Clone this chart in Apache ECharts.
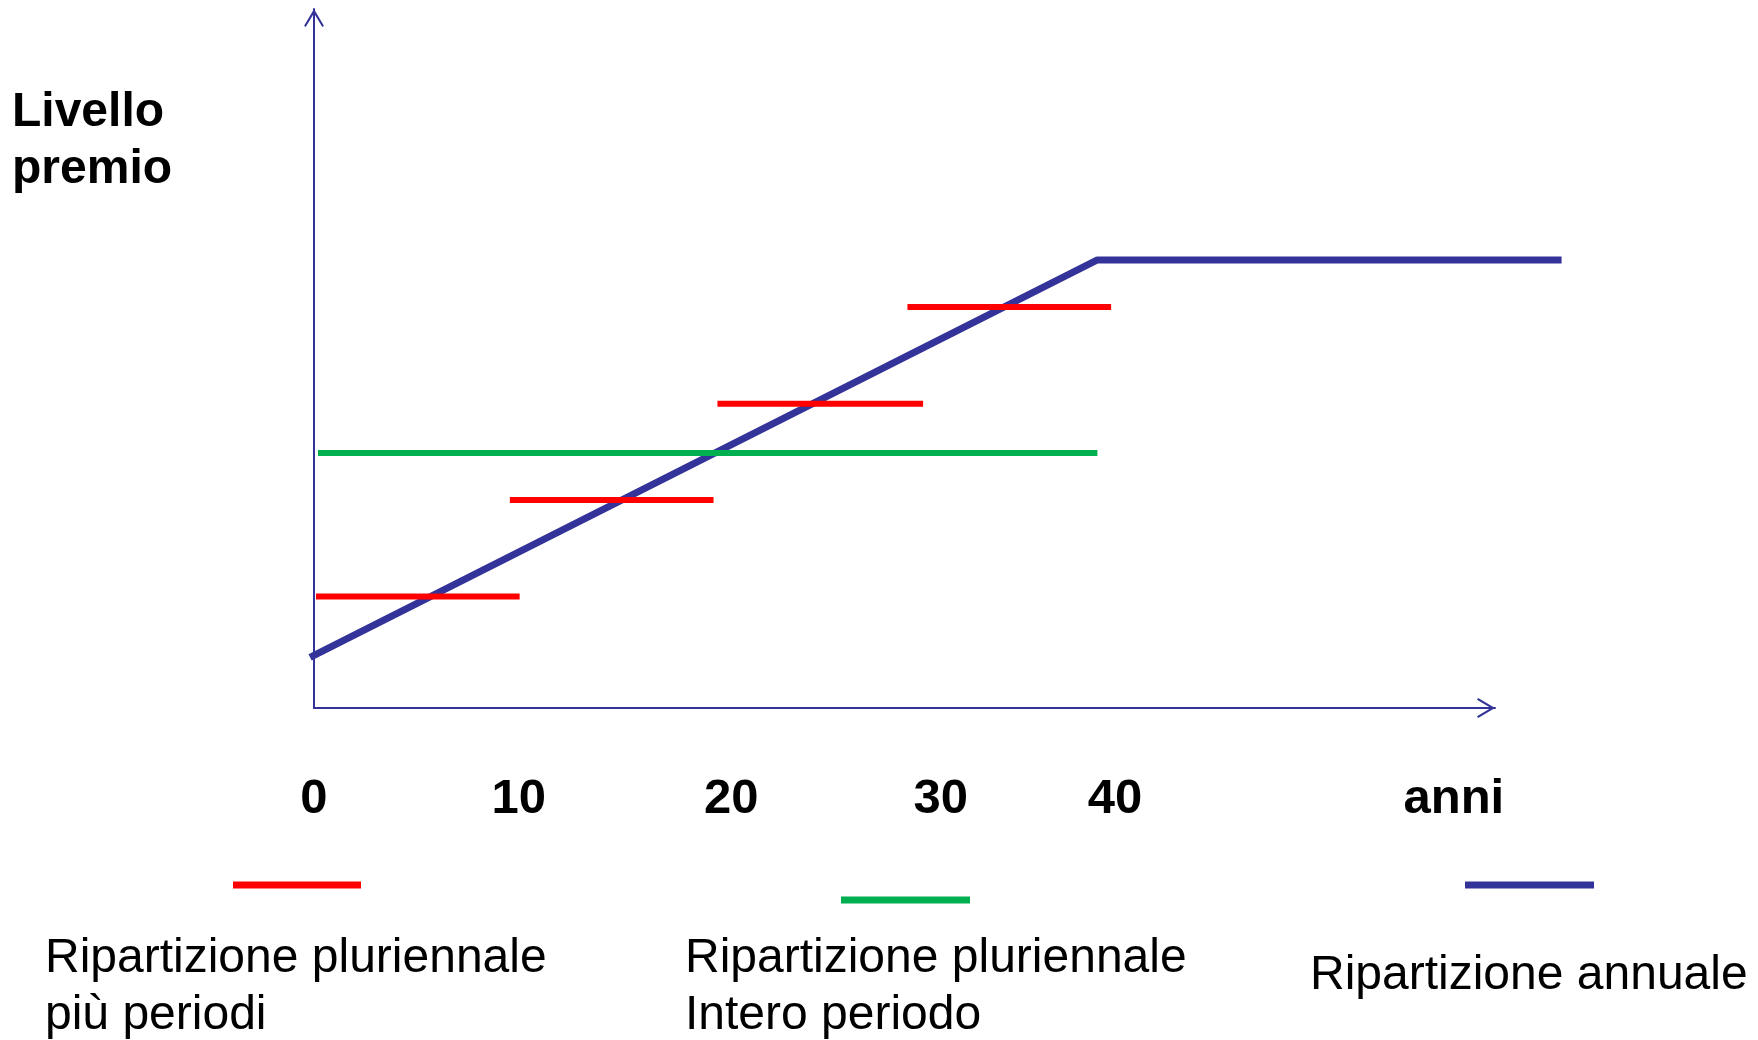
<!DOCTYPE html>
<html><head><meta charset="utf-8">
<script src="https://cdn.jsdelivr.net/npm/echarts@6/dist/echarts.min.js"></script>
<style>html,body{margin:0;padding:0;background:#fff}#c{width:1758px;height:1040px}</style>
</head><body><div id="c"></div>
<script>
// ---- data ----
const seriesNames = ['Ripartizione pluriennale\npiù periodi', 'Ripartizione pluriennale\nIntero periodo', 'Ripartizione annuale'];
const yAxisTitle = 'Livello\npremio';
const tickLabels = ['0', '10', '20', '30', '40', 'anni'];
const tickYears = [0, 10.45, 21.3, 32.0, 40.9, 58.2];
// red: multi-period premiums (one segment per period)
const redStartYears = [0.1, 10.0, 20.6, 30.3];
const redEndYears = [10.5, 20.4, 31.1, 40.7];
const redLevels = [24.9, 46.4, 67.9, 89.5];
// green: whole period premium
const greenYears = [0.2, 40.0];
const greenLevels = [56.9, 56.9];
// blue: annual premium
const blueYears = [-0.2, 40, 63.7];
const blueLevels = [11.3, 100, 100];

// ---- styles ----
const BLUE = '#333399', RED = '#FF0000', GREEN = '#00B050';
const FONT = '"Liberation Sans", Arial, sans-serif';
const chevron = 'path://M10 0 L20 17 L18.4 18.2 L10 4.2 L1.6 18.2 L0 17 Z';

// axis grid (index 1) ends at arrow tips; data grid (index 0) is wider with same scale
const AX_LEFT = 314, AX_RIGHT = 263, AX_MAX = 60.3;
const PX_PER_YEAR = (1758 - AX_LEFT - AX_RIGHT) / AX_MAX;
const D_MIN = -1, D_MAX = 64;
const D_LEFT = AX_LEFT + D_MIN * PX_PER_YEAR;
const D_RIGHT = 1758 - D_LEFT - (D_MAX - D_MIN) * PX_PER_YEAR;

const series = [];
series.push({
  type: 'line', name: seriesNames[2], data: blueYears.map((x, i) => [x, blueLevels[i]]),
  symbol: 'none', z: 2, lineStyle: { color: BLUE, width: 7 }
});
series.push({
  type: 'line', name: seriesNames[1], data: greenYears.map((x, i) => [x, greenLevels[i]]),
  symbol: 'none', z: 3, lineStyle: { color: GREEN, width: 6 }
});
redLevels.forEach((lv, i) => {
  series.push({
    type: 'line', name: seriesNames[0], data: [[redStartYears[i], lv], [redEndYears[i], lv]],
    symbol: 'none', z: 4, lineStyle: { color: RED, width: 6 }
  });
});

const axisLineCommon = {
  show: true,
  lineStyle: { color: BLUE, width: 2 },
  symbol: ['none', chevron],
  symbolSize: [20, 18],
  symbolOffset: [0, -9]
};
const hiddenAxis = { axisLine: { show: false }, axisTick: { show: false }, splitLine: { show: false }, axisLabel: { show: false } };

const option = {
  backgroundColor: '#fff',
  animation: false,
  grid: [
    { left: D_LEFT, right: D_RIGHT, top: 9, bottom: 332, containLabel: false },
    { left: AX_LEFT, right: AX_RIGHT, top: 9, bottom: 332, containLabel: false }
  ],
  xAxis: [
    Object.assign({ type: 'value', min: D_MIN, max: D_MAX, gridIndex: 0 }, hiddenAxis),
    {
      type: 'value', min: 0, max: AX_MAX, gridIndex: 1,
      axisLine: axisLineCommon,
      axisTick: { show: false },
      splitLine: { show: false },
      axisLabel: {
        customValues: tickYears,
        formatter: v => { const i = tickYears.indexOf(v); return i >= 0 ? tickLabels[i] : ''; },
        margin: 67, color: '#000', fontFamily: FONT, fontWeight: 'bold', fontSize: 49,
        verticalAlign: 'top', hideOverlap: false
      }
    }
  ],
  yAxis: [
    Object.assign({ type: 'value', min: 0, max: 156, gridIndex: 0 }, hiddenAxis),
    {
      type: 'value', min: 0, max: 156, gridIndex: 1,
      axisLine: axisLineCommon,
      axisTick: { show: false },
      splitLine: { show: false },
      axisLabel: { show: false }
    }
  ],
  series: series,
  graphic: [
    { type: 'text', left: 12, top: 84, style: { text: yAxisTitle, font: 'bold 48px ' + FONT, fill: '#000', lineHeight: 57 } },
    { type: 'line', shape: { x1: 233, y1: 885, x2: 361, y2: 885 }, style: { stroke: RED, lineWidth: 7 } },
    { type: 'line', shape: { x1: 841, y1: 900, x2: 970, y2: 900 }, style: { stroke: GREEN, lineWidth: 7 } },
    { type: 'line', shape: { x1: 1465, y1: 885, x2: 1594, y2: 885 }, style: { stroke: BLUE, lineWidth: 7 } },
    { type: 'text', left: 45, top: 930, style: { text: seriesNames[0], font: '48px ' + FONT, fill: '#000', lineHeight: 57 } },
    { type: 'text', left: 685, top: 930, style: { text: seriesNames[1], font: '48px ' + FONT, fill: '#000', lineHeight: 57 } },
    { type: 'text', left: 1310, top: 947, style: { text: seriesNames[2], font: '48px ' + FONT, fill: '#000', lineHeight: 57 } }
  ]
};
echarts.init(document.getElementById('c')).setOption(option);
</script>
</body></html>
